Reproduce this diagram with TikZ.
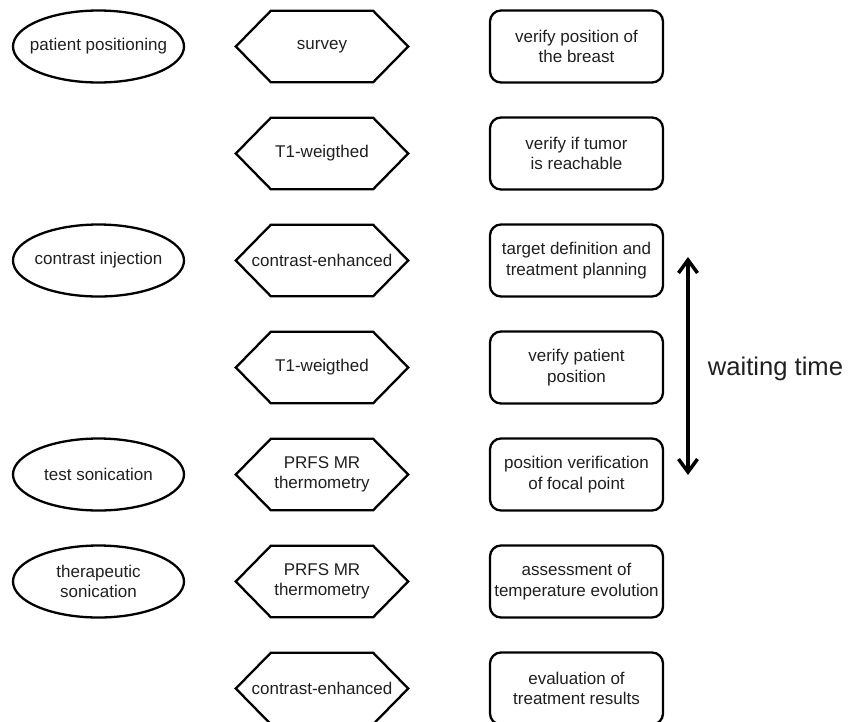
\documentclass[tikz,border=0pt]{standalone}
\usepackage{fontspec}
\setmainfont{Liberation Sans}
\usetikzlibrary{shapes.geometric,arrows.meta,calc}
\begin{document}
\begin{tikzpicture}[x=1pt,y=-1pt,
  every node/.style={font=\fontsize{17}{20.5}\selectfont, align=center, text=black!88, inner sep=0pt},
  stage/.style={rectangle, minimum width=171pt, minimum height=72pt},
  stageline/.style={line width=2.3pt},
  scan/.style={rectangle, minimum width=172pt, minimum height=71pt},
  task/.style={rectangle, rounded corners=11pt, draw, line width=2.3pt, minimum width=173pt, minimum height=72pt},
  hexline/.style={line width=2.3pt, line join=miter},
  waitarrow/.style={line width=3.5pt, {Straight Barb[length=13pt,width=19pt]}-{Straight Barb[length=13pt,width=19pt]}}
]
\useasboundingbox (0,0) rectangle (859,721);

% left column: stages
\node[stage] (e1) at (98.5,46.5) {patient positioning};
\node[stage] (e3) at (98.5,260.5) {contrast injection};
\node[stage] (e5) at (98.5,474.5) {test sonication};
\node[stage] (e6) at (98.5,581.5) {therapeutic\\sonication};
\foreach \e in {e1,e3,e5,e6}{
  \draw[stageline] (\e.center) ellipse [x radius=85.5pt, y radius=36pt];
}

% middle column: scans
\node[scan] (h1) at (322,46.5) {survey};
\node[scan] (h2) at (322,153.5) {T1-weigthed};
\node[scan] (h3) at (322,260.5) {contrast-enhanced};
\node[scan] (h4) at (322,367.5) {T1-weigthed};
\node[scan] (h5) at (322,474.5) {PRFS MR\\thermometry};
\node[scan] (h6) at (322,581.5) {PRFS MR\\thermometry};
\node[scan] (h7) at (322,688.5) {contrast-enhanced};
\foreach \h in {h1,h2,h3,h4,h5,h6,h7}{
  \draw[hexline] (\h.west) -- ($(\h.north west)+(35,0)$) -- ($(\h.north east)+(-35,0)$)
    -- (\h.east) -- ($(\h.south east)+(-35,0)$) -- ($(\h.south west)+(35,0)$) -- cycle;
}

% right column: tasks
\node[task] (r1) at (576.5,46.5) {verify position of\\the breast};
\node[task] (r2) at (576.5,153.5) {verify if tumor\\is reachable};
\node[task] (r3) at (576.5,260.5) {target definition and\\treatment planning};
\node[task] (r4) at (576.5,367.5) {verify patient\\position};
\node[task] (r5) at (576.5,474.5) {position verification\\of focal point};
\node[task] (r6) at (576.5,581.5) {assessment of\\temperature evolution};
\node[task] (r7) at (576.5,688.5) {evaluation of\\treatment results};

% waiting time
\coordinate (wtop) at (688,257);
\coordinate (wbot) at (688,475);
\draw[waitarrow] (wtop) -- (wbot);
\node[font=\fontsize{25.6}{30}\selectfont] (wt) at (775.5,369) {waiting time};
\end{tikzpicture}
\end{document}
